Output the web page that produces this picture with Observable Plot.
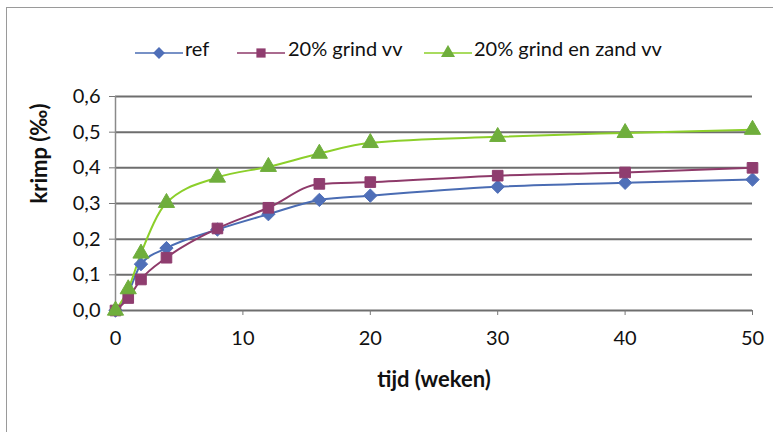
<!DOCTYPE html>
<html>
<head>
<meta charset="utf-8">
<script src="https://cdn.jsdelivr.net/npm/d3@7"></script>
<script src="https://cdn.jsdelivr.net/npm/@observablehq/plot@0.6"></script>
<style>
  body { margin: 0; background: #fff; font-family: Lato, "Open Sans", sans-serif; }
  #wrap { position: relative; width: 773px; height: 432px; overflow: hidden; background: #fff; }
  #frame { position: absolute; left: 6px; top: 7px; width: 800px; height: 460px; border-left: 1px solid #9a9a9a; border-top: 1px solid #9a9a9a; }
  #legend { position: absolute; top: 0; left: 0; width: 773px; height: 70px; font-size: 20px; color: #111; }
  #legend .sw { position: absolute; top: 41px; }
  #legend .lb { position: absolute; top: 36px; line-height: 24px; white-space: nowrap; }
  #chart { position: absolute; left: 0; top: 70px; }
</style>
</head>
<body>
<div id="wrap">
  <div id="frame"></div>
  <div id="legend"></div>
  <div id="chart"></div>
</div>
<script>
const weeks = [0, 1, 2, 4, 8, 12, 16, 20, 30, 40, 50];
const seriesNames = ["ref", "20% grind vv", "20% grind en zand vv"];
const refValues   = [0, 0.05, 0.13, 0.175, 0.227, 0.27, 0.31, 0.322, 0.347, 0.358, 0.367];
const grindValues = [0, 0.035, 0.087, 0.148, 0.23, 0.288, 0.355, 0.36, 0.378, 0.387, 0.40];
const zandValues  = [0, 0.06, 0.16, 0.302, 0.373, 0.403, 0.44, 0.47, 0.487, 0.498, 0.507];
const yTicks = [0, 0.1, 0.2, 0.3, 0.4, 0.5, 0.6];
const xTicks = [0, 10, 20, 30, 40, 50];

const lineColors = ["#4a6cb3", "#8e3a6a", "#8ccf2a"];
const markColors = ["#4f6fb8", "#8f3d6f", "#6fae3c"];
const symbols = ["diamond2", "square", "triangle"];
const allValues = [refValues, grindValues, zandValues];

const data = [];
seriesNames.forEach((s, i) => weeks.forEach((w, j) => data.push({series: s, x: w, y: allValues[i][j]})));

const fmt = d => d3.format(".1f")(d).replace(".", ",");

const chart = Plot.plot({
  width: 773,
  height: 362,
  marginTop: 26,
  marginBottom: 122,
  marginLeft: 115,
  marginRight: 21,
  style: { fontFamily: "Lato, 'Open Sans', sans-serif", fontSize: "20px", color: "#111", background: "transparent" },
  x: { domain: [0, 50], label: null },
  y: { domain: [0, 0.6], label: null },
  color: { domain: seriesNames, range: lineColors },
  symbol: { domain: seriesNames, range: symbols },
  marks: [
    Plot.gridY(yTicks, { stroke: "#6e6e6e", strokeOpacity: 1, strokeWidth: 2 }),
    Plot.ruleX([0], { stroke: "#8a8a8a", strokeWidth: 1.5 }),
    Plot.axisX({ ticks: xTicks, tickSize: 5, tickPadding: 15, stroke: "#777", fontSize: 20 }),
    Plot.axisY({ ticks: yTicks, tickFormat: fmt, tickSize: 6, tickPadding: 9, stroke: "#777", fontSize: 20 }),
    Plot.line(data, { x: "x", y: "y", z: "series", stroke: "series", strokeWidth: 2, curve: "monotone-x" }),
    Plot.dot(data, { x: "x", y: "y", symbol: "series", fill: d => markColors[seriesNames.indexOf(d.series)], stroke: d => markColors[seriesNames.indexOf(d.series)], r: 6, strokeWidth: 1 }),
    Plot.text(["tijd (weken)"], { frameAnchor: "bottom", dy: 76, fontWeight: "bold", fontSize: 22, fill: "#111" }),
    Plot.text(["krimp (‰)"], { frameAnchor: "left", dx: -76, rotate: -90, fontWeight: "bold", fontSize: 22, fill: "#111" })
  ]
});
document.getElementById("chart").appendChild(chart);

// legend
const legend = document.getElementById("legend");
const swatchX = [135, 237, 424];
const labelX = [185, 288, 474];
seriesNames.forEach((s, i) => {
  const sym = d3.symbol().type(i === 0 ? d3.symbolDiamond2 : i === 1 ? d3.symbolSquare : d3.symbolTriangle).size(i === 0 ? 90 : 85)();
  const sw = document.createElement("div");
  sw.className = "sw";
  sw.style.left = swatchX[i] + "px";
  sw.innerHTML = `<svg width="48" height="16"><line x1="0" x2="48" y1="8" y2="8" stroke="${lineColors[i]}" stroke-width="1.6"/><path d="${sym}" transform="translate(24,8)" fill="${markColors[i]}"/></svg>`;
  legend.appendChild(sw);
  const lb = document.createElement("div");
  lb.className = "lb";
  lb.style.left = labelX[i] + "px";
  lb.textContent = s;
  legend.appendChild(lb);
});
</script>
</body>
</html>
